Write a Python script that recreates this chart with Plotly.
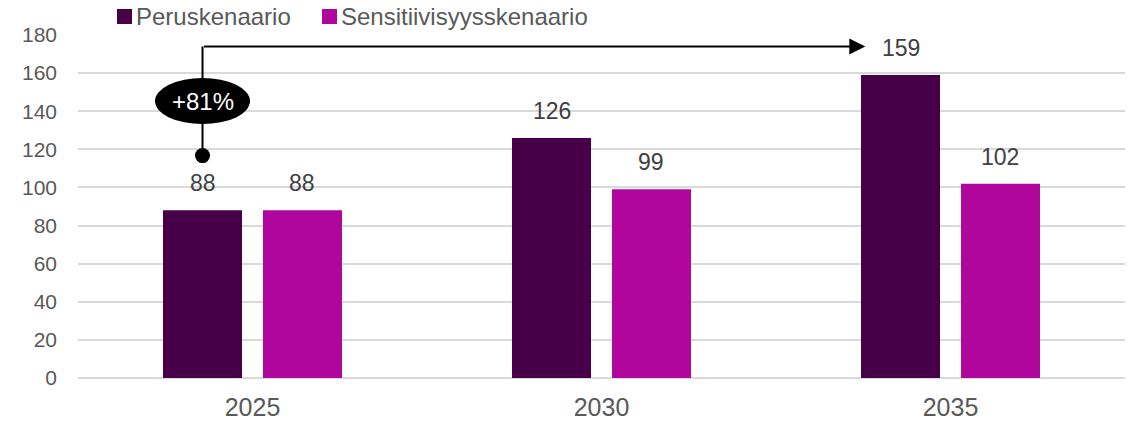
import plotly.graph_objects as go

categories = ["2025", "2030", "2035"]
perus = [88, 126, 159]
sens = [88, 99, 102]
series_names = ["Peruskenaario", "Sensitiivisyysskenaario"]
colors = ["#470047", "#B0069E"]
growth_label = "+81%"

FONT = "Liberation Sans, Arial, sans-serif"
W, H = 1137, 422
L, T = 78, 35
pw, ph = 1047, 343
R, B = W - L - pw, H - T - ph

fig = go.Figure()
for name, vals, col in zip(series_names, [perus, sens], colors):
    fig.add_trace(go.Bar(x=categories, y=vals, name=name, marker=dict(color=col, line=dict(width=0)),
                         showlegend=False))

bargap = 0.427
off = (1 - bargap) / 4  # center offset of each bar within a group

ann = []
for i in range(len(categories)):
    for vals, sgn in [(perus, -1), (sens, 1)]:
        ann.append(dict(x=i + sgn * off, y=vals[i], xref="x", yref="y", text=str(vals[i]),
                        showarrow=False, yanchor="bottom", yshift=12,
                        font=dict(family=FONT, size=23, color="#404040")))

y_low, y_high, x_tip = 116.7, 174, 1.756
x0 = -off
shapes = [
    dict(type="line", xref="x", yref="y", x0=x0, x1=x0, y0=y_low, y1=y_high,
         line=dict(color="black", width=2)),
    dict(type="circle", xref="x", yref="y", xsizemode="pixel", ysizemode="pixel",
         xanchor=x0, yanchor=y_low, x0=-7.5, x1=7.5, y0=-7.5, y1=7.5,
         fillcolor="black", line=dict(color="black", width=0)),
    dict(type="circle", xref="x", yref="y", xsizemode="pixel", ysizemode="pixel",
         xanchor=x0, yanchor=145.3, x0=-47.5, x1=47.5, y0=-23, y1=23,
         fillcolor="black", line=dict(color="black", width=0)),
]
ann.append(dict(x=x_tip, y=y_high, ax=x0, ay=y_high, xref="x", yref="y", axref="x", ayref="y",
                text="", showarrow=True, arrowhead=2, arrowsize=1.6, arrowwidth=2, arrowcolor="black",
                standoff=0, startstandoff=0))
ann.append(dict(x=x0, y=145.3, xref="x", yref="y", text=growth_label, showarrow=False,
                font=dict(family=FONT, size=24, color="white")))

# manual legend (positions in screen pixels)
def px_x(p):
    return (p - L) / pw

def px_y(p):
    return (H - B - p) / ph

leg_x = [117, 322]
for lx, name, col in zip(leg_x, series_names, colors):
    shapes.append(dict(type="rect", xref="paper", yref="paper", x0=px_x(lx), x1=px_x(lx + 15),
                       y0=px_y(24), y1=px_y(9), fillcolor=col, line=dict(width=0)))
    ann.append(dict(x=px_x(lx + 17), y=px_y(16.5), xref="paper", yref="paper", text=name,
                    showarrow=False, xanchor="left", yanchor="middle",
                    font=dict(family=FONT, size=24, color="#595959")))

fig.update_layout(
    width=W, height=H, margin=dict(l=L, r=R, t=T, b=B),
    plot_bgcolor="white", paper_bgcolor="white",
    barmode="group", bargap=bargap, bargroupgap=0.21,
    annotations=ann, shapes=shapes,
    xaxis=dict(type="category", showgrid=False, showline=False, ticks="", automargin=False,
               tickfont=dict(family=FONT, size=25, color="#595959"), ticklabelstandoff=12),
    yaxis=dict(range=[0, 180], dtick=20, showgrid=True, gridcolor="#D9D9D9", gridwidth=1.5,
               zeroline=True, zerolinecolor="#D9D9D9", zerolinewidth=1.5, showline=False, ticks="",
               automargin=False,
               tickfont=dict(family=FONT, size=21, color="#595959"), ticklabelstandoff=20),
)

fig.write_html("out.html", config={"displayModeBar": False},
               post_script="document.body.style.margin='0';document.body.style.overflow='hidden';")
